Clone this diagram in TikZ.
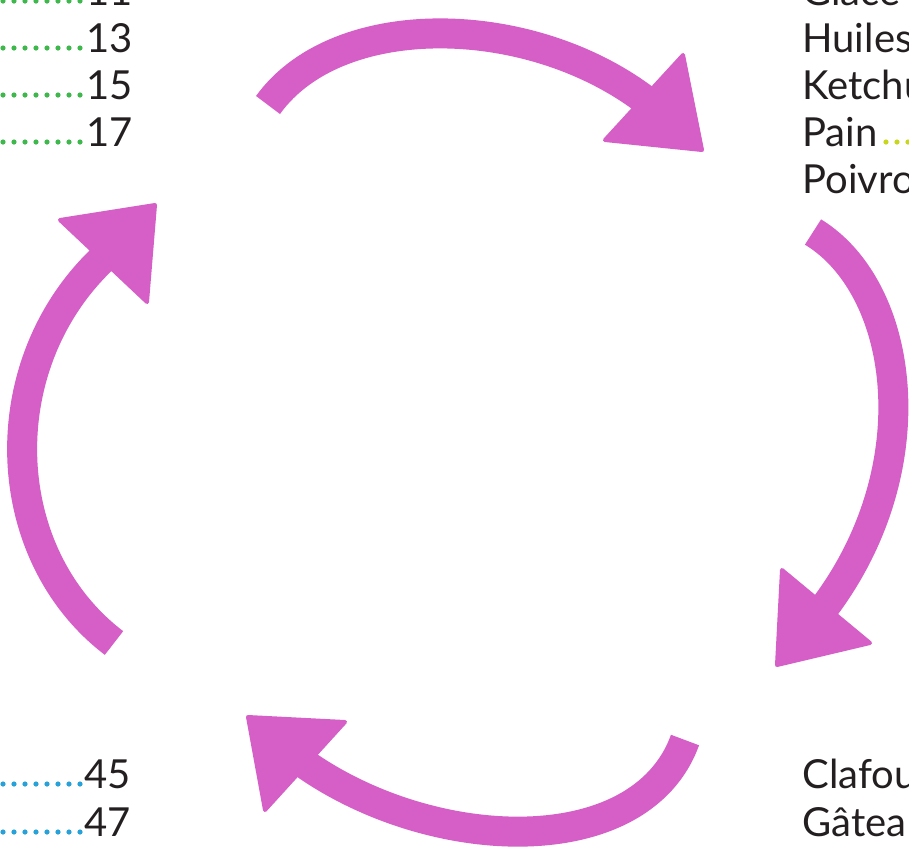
\documentclass[tikz,border=0pt]{standalone}
\usepackage{fontspec}
\setmainfont{Lato}
\definecolor{crayon}{RGB}{213,94,199}
\definecolor{dotgreen}{RGB}{62,184,76}
\definecolor{dotblue}{RGB}{40,160,216}
\definecolor{dotlime}{RGB}{200,214,30}
\definecolor{ink}{RGB}{35,31,32}
\tikzset{
  entry/.style={inner sep=0pt,text=ink,font=\fontsize{20}{24}\selectfont},
  shaft/.style={draw=crayon,line width=15pt},
  head/.style={fill=crayon,draw=crayon,line width=2pt,line join=round},
  leader/.style={line width=2.6pt,line cap=round,dash pattern=on 0pt off 5.5pt},
}

\begin{document}
\begin{tikzpicture}[x=0.5pt,y=-0.5pt]
\useasboundingbox (0,0) rectangle (909,852);
\clip (0,0) rectangle (909,852);

% page numbers, top left
\node[entry,anchor=base east] (n11) at (133,5) {11};
\node[entry,anchor=base east] (n13) at (133,52) {13};
\node[entry,anchor=base east] (n15) at (133,99) {15};
\node[entry,anchor=base east] (n17) at (133,146) {17};
\foreach \n in {n11,n13,n15,n17}
  \draw[leader,dotgreen] (\n.base -| 80,0) ++(0pt,2pt) -- ++(-45pt,0pt);

% page numbers, bottom left
\node[entry,anchor=base east] (n45) at (131,788) {45};
\node[entry,anchor=base east] (n47) at (131,836) {47};
\foreach \n in {n45,n47}
  \draw[leader,dotblue] (\n.base -| 80,0) ++(0pt,2pt) -- ++(-45pt,0pt);

% words, top right
\node[entry,anchor=base west] (glace) at (802,5) {Glace};
\node[entry,anchor=base west] (huiles) at (802,52) {Huiles};
\node[entry,anchor=base west] (ketchu) at (802,99) {Ketchu};
\node[entry,anchor=base west] (pain) at (802,146) {Pain};
\node[entry,anchor=base west] (poivro) at (802,193) {Poivro};
\draw[leader,dotlime] (pain.base east) ++(4pt,2pt) -- ++(30pt,0pt);

% words, bottom right
\node[entry,anchor=base west] (clafou) at (802,788) {Clafou};
\node[entry,anchor=base west] (gatea) at (802,836) {Gâtea};

% the four arrows of the cycle
\draw[shaft] (268,105) .. controls (340,5) and (545,12) .. (660,112);
\filldraw[head] (683,55) -- (702,150) -- (605,140) -- cycle;

\draw[shaft] (813,232) .. controls (908,290) and (932,480) .. (812,623);
\filldraw[head] (782,570) -- (870,643) -- (777,665) -- cycle;

\draw[shaft] (685,740) .. controls (640,865) and (420,855) .. (290,753);
\filldraw[head] (345,722) -- (265,810) -- (248,717) -- cycle;

\draw[shaft] (114,643) .. controls (-8,550) and (-10,350) .. (117,246);
\filldraw[head] (60,220) -- (155,205) -- (147,302) -- cycle;
\end{tikzpicture}
\end{document}
